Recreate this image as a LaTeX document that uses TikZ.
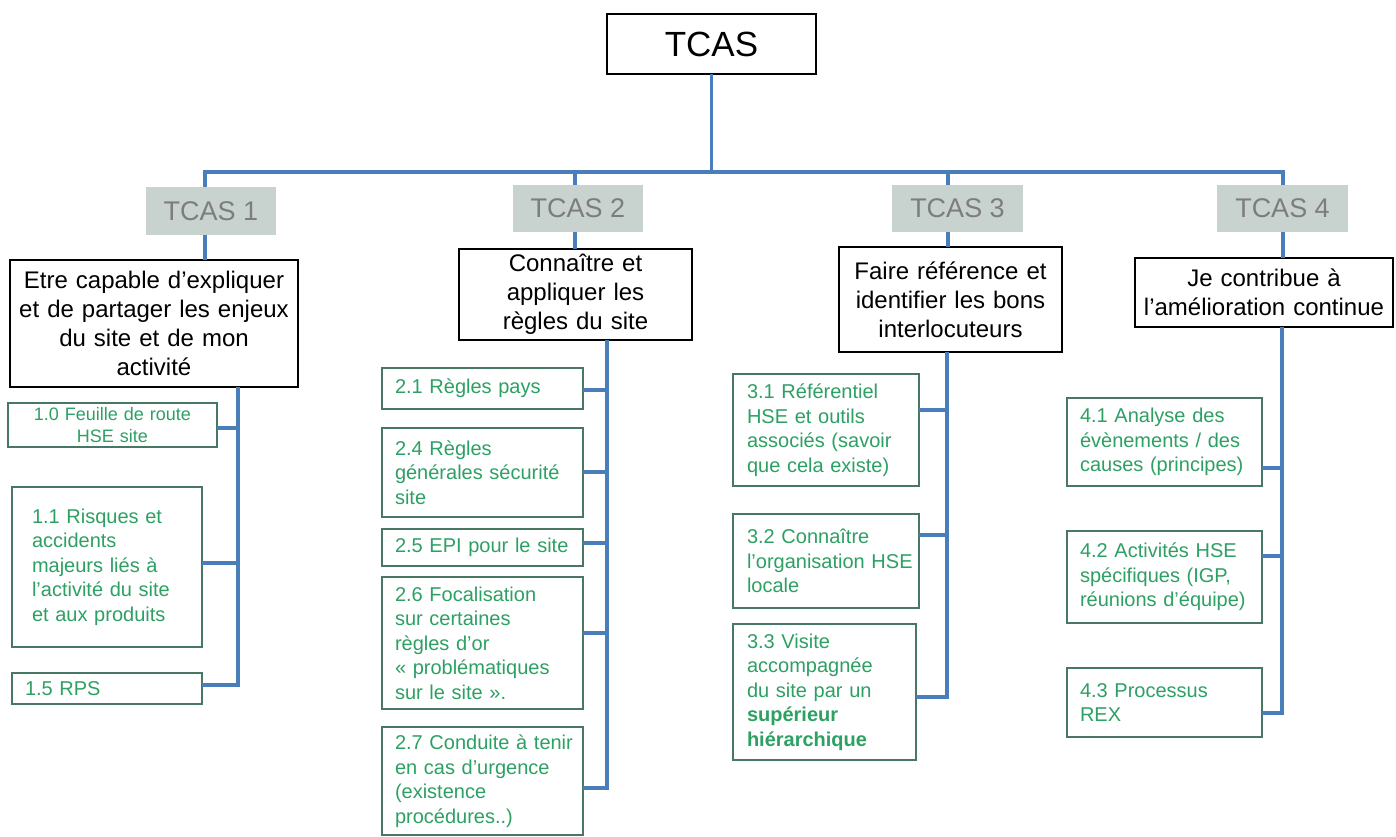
\documentclass[tikz,border=0pt]{standalone}
\usepackage{fontspec}
\setmainfont{Liberation Sans}
\definecolor{bluel}{RGB}{74,126,187}
\definecolor{gborder}{RGB}{72,120,100}
\definecolor{gtext}{RGB}{45,160,100}
\definecolor{grayfill}{RGB}{200,211,207}
\definecolor{graytext}{RGB}{125,125,125}
\tikzset{
  base/.style={anchor=north west, outer sep=0pt, inner ysep=0pt},
  topbox/.style={base, draw=black, line width=1.5pt, fill=white, font=\fontsize{35}{40}\selectfont},
  blackbox/.style={base, draw=black, line width=1.5pt, fill=white, align=center, inner xsep=6pt, font=\fontsize{24}{29}\selectfont},
  tcasbox/.style={base, fill=grayfill, text=graytext, font=\fontsize{27}{32}\selectfont},
  greenbox/.style={base, draw=gborder, line width=1.5pt, fill=white, text=gtext, align=left,
    execute at begin node={\hyphenpenalty=10000\exhyphenpenalty=10000},
    font=\fontsize{20}{24.5}\selectfont},
  link/.style={draw=bluel, line width=3.5pt, line join=miter}
}
\begin{document}
\begin{tikzpicture}[x=1pt,y=-1pt]
\useasboundingbox (0,0) rectangle (1396,836);
% top
\node[topbox, minimum width=209pt, minimum height=60pt] (top) at (607,14) {TCAS};
% TCAS level
\node[tcasbox, minimum width=130pt, minimum height=48pt] (t1) at (146,187) {TCAS 1};
\node[tcasbox, minimum width=130pt, minimum height=47pt] (t2) at (513,185) {TCAS 2};
\node[tcasbox, minimum width=131pt, minimum height=47pt] (t3) at (892,185) {TCAS 3};
\node[tcasbox, minimum width=131pt, minimum height=47pt] (t4) at (1217,185) {TCAS 4};
% black boxes
\node[blackbox, minimum width=288pt, minimum height=127pt, text width=276pt] (b1) at (10,260)
  {Etre capable d’expliquer\\et de partager les enjeux\\du site et de mon\\activité};
\node[blackbox, minimum width=233pt, minimum height=91pt, text width=221pt] (b2) at (459,249)
  {Connaître et\\appliquer les\\règles du site};
\node[blackbox, minimum width=223pt, minimum height=105pt, text width=211pt] (b3) at (839,247)
  {Faire référence et\\identifier les bons\\interlocuteurs};
\node[blackbox, minimum width=258pt, minimum height=69pt, text width=246pt] (b4) at (1135,258)
  {Je contribue à\\l'amélioration~continue};
% column 1
\node[greenbox, align=center, font=\fontsize{18}{22}\selectfont, minimum width=209pt, minimum height=44pt, inner xsep=8pt, text width=193pt] (g10) at (8,403)
  {1.0 Feuille de route\\HSE site};
\node[greenbox, minimum width=190pt, minimum height=160pt, inner xsep=20pt, text width=150pt] (g11) at (12,487)
  {1.1 Risques et\\accidents\\majeurs liés à\\\mbox{l'activité du site}\\et aux produits};
\node[greenbox, minimum width=190pt, minimum height=31pt, inner xsep=13pt, text width=164pt] (g15) at (12,673)
  {1.5 RPS};
% column 2
\node[greenbox, minimum width=201pt, minimum height=41pt, inner xsep=13pt, text width=175pt] (g21) at (382,368)
  {2.1 Règles pays};
\node[greenbox, minimum width=201pt, minimum height=89pt, inner xsep=13pt, text width=175pt] (g24) at (382,428)
  {2.4 Règles\\\mbox{générales sécurité}\\site};
\node[greenbox, minimum width=201pt, minimum height=37pt, inner xsep=13pt, text width=175pt] (g25) at (382,529)
  {2.5 EPI pour le site};
\node[greenbox, minimum width=201pt, minimum height=132pt, inner xsep=13pt, text width=175pt] (g26) at (382,577)
  {2.6 Focalisation\\sur certaines\\règles d'or\\«~problématiques\\sur le site~».};
\node[greenbox, minimum width=201pt, minimum height=108pt, inner xsep=13pt, text width=175pt] (g27) at (382,727)
  {\mbox{2.7 Conduite à tenir}\\en cas d'urgence\\(existence\\procédures..)};
% column 3
\node[greenbox, minimum width=186pt, minimum height=112pt, inner xsep=14pt, text width=158pt] (g31) at (733,374)
  {3.1 Référentiel\\HSE et outils\\\mbox{associés (savoir}\\que cela existe)};
\node[greenbox, minimum width=186pt, minimum height=94pt, inner xsep=14pt, text width=158pt] (g32) at (733,514)
  {3.2 Connaître\\\mbox{l'organisation HSE}\\locale};
\node[greenbox, minimum width=183pt, minimum height=136pt, inner xsep=14pt, text width=155pt] (g33) at (733,624)
  {3.3 Visite\\accompagnée\\du site par un\\\textbf{supérieur}\\\textbf{hiérarchique}};
% column 4
\node[greenbox, minimum width=195pt, minimum height=88pt, inner xsep=13pt, text width=169pt] (g41) at (1067,398)
  {4.1 Analyse des\\évènements / des\\\mbox{causes (principes)}};
\node[greenbox, minimum width=195pt, minimum height=92pt, inner xsep=13pt, text width=169pt] (g42) at (1067,531)
  {4.2 Activités HSE\\spécifiques (IGP,\\\mbox{réunions d'équipe)}};
\node[greenbox, minimum width=195pt, minimum height=69pt, inner xsep=13pt, text width=169pt] (g43) at (1067,668)
  {4.3 Processus\\REX};
% guide coordinates
\coordinate (bus) at (0,172);
\coordinate (s1) at (205,0);
\coordinate (s2) at (575,0);
\coordinate (s3) at (948,0);
\coordinate (s4) at (1283,0);
\coordinate (st1) at (238,0);
\coordinate (st2) at (607,0);
\coordinate (st3) at (947,0);
\coordinate (st4) at (1282,0);
\coordinate (y10) at (0,428);
\coordinate (y11) at (0,563);
\coordinate (y15) at (0,685);
\coordinate (y21) at (0,390);
\coordinate (y24) at (0,472);
\coordinate (y25) at (0,543);
\coordinate (y26) at (0,633);
\coordinate (y27) at (0,788);
\coordinate (y31) at (0,410);
\coordinate (y32) at (0,535);
\coordinate (y33) at (0,697);
\coordinate (y41) at (0,468);
\coordinate (y42) at (0,556);
\coordinate (y43) at (0,713);
% top connectors
\draw[link] (top.south) -- (top.south |- bus);
\draw[link] (s1 |- t1.north) -- (s1 |- bus) -- (s4 |- bus) -- (s4 |- t4.north);
\draw[link] (s2 |- bus) -- (s2 |- t2.north);
\draw[link] (s3 |- bus) -- (s3 |- t3.north);
\draw[link] (s1 |- t1.south) -- (s1 |- b1.north);
\draw[link] (s2 |- t2.south) -- (s2 |- b2.north);
\draw[link] (s3 |- t3.south) -- (s3 |- b3.north);
\draw[link] (s4 |- t4.south) -- (s4 |- b4.north);
% column 1 connectors
\draw[link] (st1 |- b1.south) -- (st1 |- y15) -- (g15.east |- y15);
\draw[link] (g10.east |- y10) -- (st1 |- y10);
\draw[link] (g11.east |- y11) -- (st1 |- y11);
% column 2 connectors
\draw[link] (st2 |- b2.south) -- (st2 |- y27) -- (g27.east |- y27);
\draw[link] (g21.east |- y21) -- (st2 |- y21);
\draw[link] (g24.east |- y24) -- (st2 |- y24);
\draw[link] (g25.east |- y25) -- (st2 |- y25);
\draw[link] (g26.east |- y26) -- (st2 |- y26);
% column 3 connectors
\draw[link] (st3 |- b3.south) -- (st3 |- y33) -- (g33.east |- y33);
\draw[link] (g31.east |- y31) -- (st3 |- y31);
\draw[link] (g32.east |- y32) -- (st3 |- y32);
% column 4 connectors
\draw[link] (st4 |- b4.south) -- (st4 |- y43) -- (g43.east |- y43);
\draw[link] (g41.east |- y41) -- (st4 |- y41);
\draw[link] (g42.east |- y42) -- (st4 |- y42);
\end{tikzpicture}
\end{document}
